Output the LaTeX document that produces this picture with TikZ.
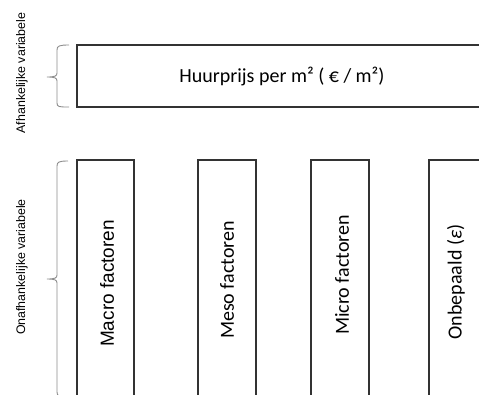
\documentclass[tikz,border=0pt]{standalone}
\usepackage{fontspec}
\setmainfont{Carlito}
\newfontfamily\arialfont{Liberation Sans}
\definecolor{boxline}{HTML}{333333}
\definecolor{braceline}{HTML}{8C8C8C}
\begin{document}
\begin{tikzpicture}[x=1pt,y=-1pt,
  varbox/.style={draw=boxline, line width=1.3pt, inner sep=0pt},
  bigtext/.style={font=\fontsize{20}{24}\selectfont},
  sidelabel/.style={font=\arialfont\fontsize{12.4}{14}\selectfont, rotate=90},
  bracepath/.style={draw=braceline, line width=0.9pt}]
\useasboundingbox (0,0) rectangle (479,394);
\clip (0,0) rectangle (479,394);

% dependent variable
\node[varbox, minimum width=410pt, minimum height=62pt] (dep) at (282,76) {};
\node[bigtext] (deptext) at (dep.center) {Huurprijs per m² ( € / m²)};

% independent variables
\node[varbox, minimum width=57pt, minimum height=240pt] (macro) at (105.5,280) {};
\node[varbox, minimum width=58pt, minimum height=240pt] (meso)  at (227,280) {};
\node[varbox, minimum width=58pt, minimum height=240pt] (micro) at (340,280) {};
\node[varbox, minimum width=58pt, minimum height=240pt] (onbep) at (458,280) {};

\node[rotate=90, font=\arialfont\fontsize{19}{22}\selectfont] (macrotext) at ([xshift=1.5pt,yshift=-3.5pt]macro.center) {Macro factoren};
\node[rotate=90, bigtext] (mesotext)  at (meso.center) {Meso factoren};
\node[rotate=90, bigtext] (microtext) at ([xshift=2pt,yshift=5pt]micro.center) {Micro factoren};
\node[rotate=90, bigtext] (onbeptext) at ([xshift=-2pt,yshift=-2pt]onbep.center) {Onbepaald (\textit{ε})};

% side labels
\node[sidelabel] (deplabel) at (22,73) {Afhankelijke variabele};
\node[sidelabel] (indeplabel) at (22,267) {Onafhankelijke variabele};

% braces
\coordinate (tipA) at (47,77);
\coordinate (tipB) at (47,279);
\draw[bracepath] (69,45) .. controls (59,45) and (57,46) .. (57,50) -- (57,73)
  .. controls (57,76) and (55,77) .. (tipA)
  .. controls (55,77) and (57,78) .. (57,81) -- (57,103)
  .. controls (57,107) and (59,107) .. (69,107);
\draw[bracepath] (68,161) .. controls (59,161) and (57,162) .. (57,166) -- (57,275)
  .. controls (57,278) and (55,279) .. (tipB)
  .. controls (55,279) and (57,280) .. (57,283) -- (57,392)
  .. controls (57,396) and (59,397) .. (68,397);
\end{tikzpicture}
\end{document}
